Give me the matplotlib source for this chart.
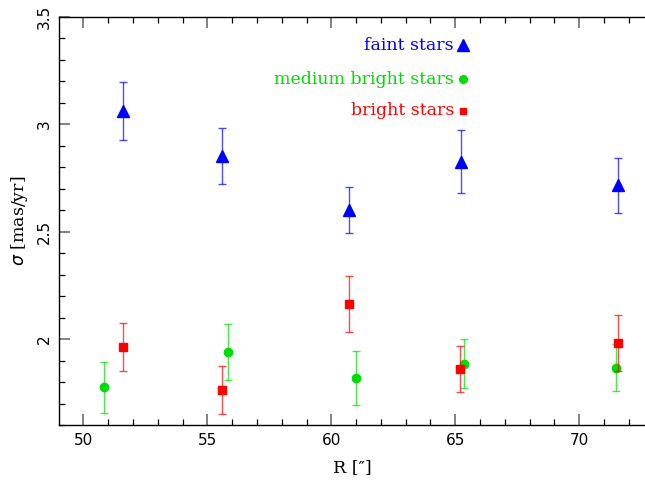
import matplotlib
matplotlib.use("Agg")
import matplotlib.pyplot as plt
from matplotlib.ticker import MultipleLocator, FixedLocator

# dispersion profiles for three magnitude bins
r_faint = [51.6, 55.6, 60.7, 65.25, 71.55]
sig_faint = [3.06, 2.85, 2.60, 2.825, 2.715]
err_faint = [0.135, 0.13, 0.105, 0.145, 0.127]

r_medium = [50.82, 55.85, 60.98, 65.36, 71.47]
sig_medium = [1.775, 1.94, 1.82, 1.885, 1.866]
err_medium = [0.12, 0.13, 0.125, 0.115, 0.11]

r_bright = [51.6, 55.6, 60.7, 65.2, 71.57]
sig_bright = [1.963, 1.763, 2.162, 1.86, 1.98]
err_bright = [0.11, 0.112, 0.13, 0.106, 0.13]

labels = ["faint stars", "medium bright stars", "bright stars"]
key_y = [3.367, 3.208, 3.062]

blue = "#0000ff"
green = "#00dd00"
red = "#ff0000"

serif = ["DejaVu Serif"]

fig = plt.figure(figsize=(6.45, 4.83), dpi=100)
ax = fig.add_axes([0.0915, 0.12, 0.9085, 0.8458])

def errs(x, y, e, c, marker, ms):
    ax.errorbar(x, y, yerr=e, fmt="none", ecolor=c, elinewidth=1.0,
                capsize=3, capthick=1.0, alpha=0.7)
    ax.plot(x, y, ls="none", marker=marker, ms=ms, color=c, mec=c)

errs(r_medium, sig_medium, err_medium, green, "o", 6)
errs(r_bright, sig_bright, err_bright, red, "s", 5.5)
errs(r_faint, sig_faint, err_faint, blue, "^", 8)

# key drawn inside the frame
key_colors = [blue, green, red]
key_markers = ["^", "o", "s"]
key_sizes = [8, 5.5, 5]
for lab, yy, c, m, s in zip(labels, key_y, key_colors, key_markers, key_sizes):
    ax.text(64.95, yy, lab, color=c, ha="right", va="center",
            fontsize=12.5, family=serif)
    ax.plot([65.32], [yy], marker=m, ms=s, color=c, ls="none")

ax.set_xlim(49.02, 72.65)
ax.set_ylim(1.6, 3.5)

ax.xaxis.set_major_locator(MultipleLocator(5))
ax.xaxis.set_minor_locator(MultipleLocator(1))
ax.yaxis.set_major_locator(FixedLocator([2, 2.5, 3, 3.5]))
ax.yaxis.set_minor_locator(MultipleLocator(0.1))
ax.set_yticklabels(["2", "2.5", "3", "3.5"], rotation=90, va="center")

ax.tick_params(which="both", direction="in", top=True, right=False,
               labelsize=11, width=0.9)
ax.tick_params(which="major", length=8, color="#777777", width=1.3)
ax.tick_params(which="minor", length=4)
ax.tick_params(axis="y", pad=5)
ax.tick_params(axis="x", pad=6)

ax.spines["right"].set_visible(False)
for s in ["left", "bottom", "top"]:
    ax.spines[s].set_linewidth(1.0)

ax.set_xlabel("R [\u2033]", fontsize=12.5, family=serif, labelpad=8)
ax.set_ylabel("$\\sigma$ [mas/yr]", fontsize=12.5, family=serif, labelpad=5)

fig.savefig("out.png", dpi=100)
